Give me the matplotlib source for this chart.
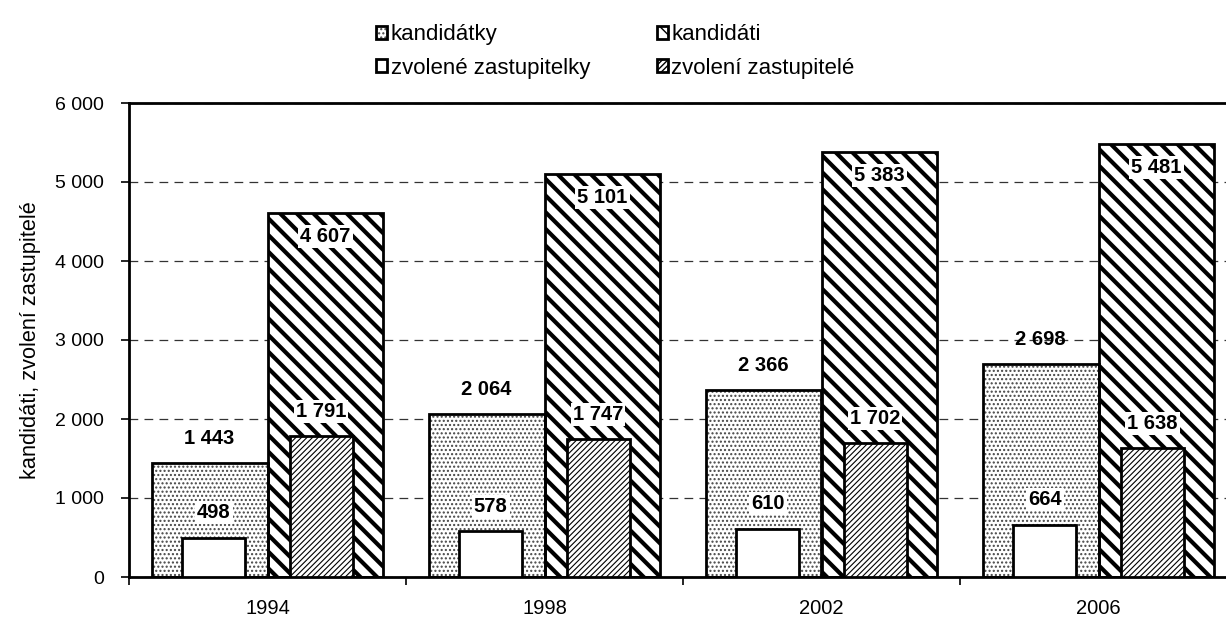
import numpy as np
import matplotlib
matplotlib.use("Agg")
import matplotlib.pyplot as plt
from matplotlib.legend_handler import HandlerTuple

plt.rcParams['font.family'] = ['Liberation Sans', 'DejaVu Sans']

# Candidates and elected representatives by election year
years = ['1994', '1998', '2002', '2006']
kandidatky = [1443, 2064, 2366, 2698]
kandidati = [4607, 5101, 5383, 5481]
zvolene = [498, 578, 610, 664]
zvoleni = [1791, 1747, 1702, 1638]

def fmt(v):
    return f"{v:,}".replace(",", " ")

x = np.arange(len(years))
w_big = 0.418
w_small = 0.226
off_small = 0.194

fig = plt.figure(figsize=(12.26, 6.17), dpi=100)
ax = fig.add_axes([129 / 1226, 40 / 617, 1108 / 1226, 474 / 617])

# wide bars: candidates
with plt.rc_context({'hatch.linewidth': 1.0}):
    b1 = ax.bar(x - w_big / 2, kandidatky, w_big, facecolor='white',
                edgecolor='#444444', hatch='....', linewidth=0, zorder=2)
b1e = ax.bar(x - w_big / 2, kandidatky, w_big, fill=False,
             edgecolor='black', linewidth=2.0, zorder=2.1)
with plt.rc_context({'hatch.linewidth': 3.0}):
    b2 = ax.bar(x + w_big / 2, kandidati, w_big, facecolor='white',
                edgecolor='black', hatch='\\\\', linewidth=2.0, zorder=2)

# narrow bars: elected
b3 = ax.bar(x - off_small, zvolene, w_small, facecolor='white',
            edgecolor='black', linewidth=2.0, zorder=3)
with plt.rc_context({'hatch.linewidth': 0.8}):
    b4 = ax.bar(x + off_small, zvoleni, w_small, facecolor='white',
                edgecolor='black', hatch='//////', linewidth=2.0, zorder=3)

lab = dict(ha='center', va='center', fontsize=14.5, fontweight='bold',
           textcoords='offset points', zorder=5)
box = dict(facecolor='white', edgecolor='none', pad=1.5)
for xi, v in zip(x - w_big / 2, kandidatky):
    ax.annotate(fmt(v), (xi, v), xytext=(0, 17.5), **lab)
for xi, v in zip(x + w_big / 2, kandidati):
    ax.annotate(fmt(v), (xi, v), xytext=(0, -17), bbox=box, **lab)
for xi, v in zip(x - off_small, zvolene):
    ax.annotate(fmt(v), (xi, v), xytext=(0, 18), bbox=box, **lab)
for xi, v in zip(x + off_small, zvoleni):
    ax.annotate(fmt(v), (xi, v), xytext=(0, 17.5), bbox=box, **lab)

ax.set_xlim(-0.5, 3.5)
ax.set_ylim(0, 6000)
yt = np.arange(0, 6001, 1000)
ax.set_yticks(yt)
ax.set_yticklabels([fmt(v) for v in yt])
ax.set_xticks(x)
ax.set_xticklabels(years)
ax.set_xticks(np.arange(-0.5, 4, 1), minor=True)
ax.tick_params(axis='x', which='major', length=0, pad=15.5, labelsize=14.5)
ax.tick_params(axis='x', which='minor', length=6, width=1.2, direction='out')
ax.tick_params(axis='y', length=6, width=1.2, pad=12, labelsize=14)

ax.yaxis.grid(True, color='#333333', linewidth=0.9, linestyle=(0, (7, 5)), zorder=0)
ax.set_axisbelow(True)
for s in ['left', 'top', 'bottom']:
    ax.spines[s].set_linewidth(2.0)
ax.spines['right'].set_visible(False)

ax.set_ylabel('kandidáti, zvolení zastupitelé', fontsize=15.7, labelpad=10)

fig.legend([(b1, b1e), b3, b2, b4],
           ['kandidátky', 'zvolené zastupitelky', 'kandidáti', 'zvolení zastupitelé'],
           handler_map={tuple: HandlerTuple(ndivide=1)},
           ncol=2, loc='upper center', bbox_to_anchor=(0.502, 0.993),
           frameon=False, fontsize=16, handlelength=0.5, handleheight=0.5,
           handletextpad=0.15, columnspacing=3.0, labelspacing=0.55)

fig.savefig('out.png', dpi=100)
